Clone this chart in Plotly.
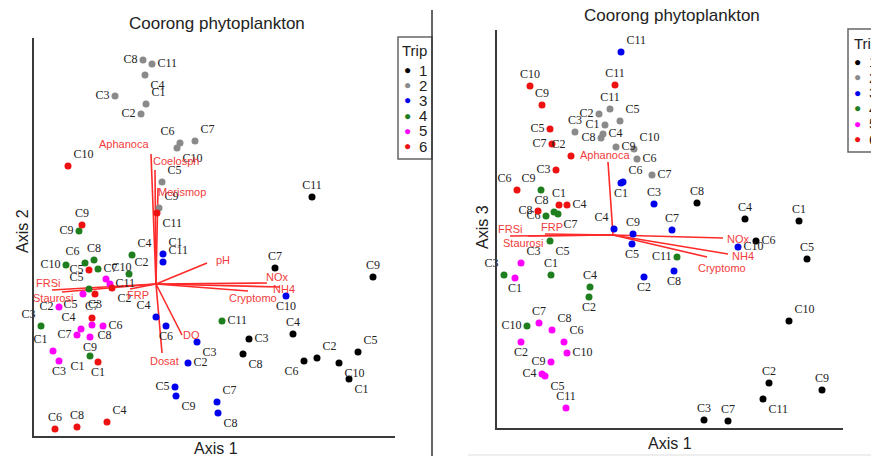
import plotly.graph_objects as go

W, H = 871, 456

# ---------------- data ----------------
trips = ["1", "2", "3", "4", "5", "6"]
trip_colors = ["#000000", "#8a8a8a", "#0000ee", "#1f7f1f", "#ff00ff", "#ee1111"]

# Left panel: Axis 1 vs Axis 2 site scores, by trip
L_t1_site = ["C11", "C7", "C9", "C4", "C3", "C8", "C6", "C2", "C10", "C5", "C1"]
L_t1_ax1 = [1.56, 1.19, 2.17, 1.37, 0.93, 0.87, 1.48, 1.61, 1.83, 2.02, 1.93]
L_t1_ax2 = [0.87, 0.16, 0.07, -0.50, -0.55, -0.70, -0.77, -0.74, -0.79, -0.68, -0.95]

L_t2_site = ["C8", "C11", "C4", "C3", "C1", "C2", "C6", "C7", "C10", "C5", "C9"]
L_t2_ax1 = [-0.13, -0.04, -0.11, -0.41, -0.10, -0.15, 0.24, 0.39, 0.21, 0.06, 0.03]
L_t2_ax2 = [2.24, 2.20, 2.09, 1.88, 1.80, 1.70, 1.41, 1.43, 1.36, 1.02, 0.76]

L_t3_site = ["C1", "C11", "C10", "C4", "C6", "C3", "C2", "C5", "C9", "C7", "C8"]
L_t3_ax1 = [0.07, 0.07, 1.30, 0.00, 0.10, 0.41, 0.32, 0.19, 0.20, 0.61, 0.62]
L_t3_ax2 = [0.30, 0.22, -0.12, -0.33, -0.42, -0.58, -0.79, -1.03, -1.12, -1.18, -1.29]

L_t4_site = ["C9", "C4", "C6", "C8", "C10", "C7", "C2", "C5", "C3", "C1", "C11"]
L_t4_ax1 = [-0.77, -0.24, -0.71, -0.62, -0.90, -0.58, -0.27, -0.67, -1.15, -0.66, 0.66]
L_t4_ax2 = [0.53, 0.29, 0.21, 0.24, 0.19, 0.15, 0.10, -0.05, -0.42, -0.72, -0.37]

L_t5_site = ["C10", "C11", "C5", "C2", "C4", "C7", "C8", "C9", "C6", "C1", "C3"]
L_t5_ax1 = [-0.50, -0.46, -0.73, -0.97, -0.75, -0.79, -0.64, -0.66, -0.53, -1.03, -0.97]
L_t5_ax2 = [0.05, 0.00, -0.10, -0.23, -0.45, -0.51, -0.41, -0.53, -0.42, -0.67, -0.77]

L_t6_site = ["C10", "C11", "C9", "C5", "C2", "C3", "C7", "C1", "C6", "C8", "C4"]
L_t6_ax1 = [-0.88, 0.01, -0.74, -0.67, -0.44, -0.61, -0.64, -0.58, -1.01, -0.79, -0.49]
L_t6_ax2 = [1.18, 0.71, 0.59, 0.14, -0.04, -0.10, -0.34, -0.78, -1.45, -1.43, -1.38]

# Right panel: Axis 1 vs Axis 3 site scores, by trip
R_t1_site = ["C8", "C4", "C1", "C6", "C5", "C10", "C2", "C11", "C9", "C3", "C7"]
R_t1_ax1 = [0.84, 1.32, 1.86, 1.43, 1.94, 1.76, 1.56, 1.50, 2.09, 0.91, 1.15]
R_t1_ax3 = [0.32, 0.16, 0.14, -0.06, -0.24, -0.86, -1.48, -1.64, -1.55, -1.85, -1.86]

R_t2_site = ["C11", "C2", "C1", "C5", "C3", "C4", "C8", "C9", "C10", "C6", "C7"]
R_t2_ax1 = [-0.03, -0.14, -0.08, 0.07, -0.38, -0.10, -0.12, 0.03, 0.21, 0.24, 0.39]
R_t2_ax3 = [1.26, 1.21, 1.10, 1.14, 1.03, 1.01, 0.97, 0.88, 0.86, 0.76, 0.60]

R_t3_site = ["C11", "C6", "C1", "C3", "C7", "C4", "C9", "C5", "C10", "C2", "C8"]
R_t3_ax1 = [0.08, 0.10, 0.08, 0.41, 0.59, 0.01, 0.20, 0.19, 1.25, 0.31, 0.61]
R_t3_ax3 = [1.83, 0.53, 0.52, 0.31, 0.05, 0.06, 0.01, -0.09, -0.12, -0.42, -0.36]

R_t4_site = ["C9", "C8", "C7", "C6", "C5", "C3", "C1", "C4", "C2", "C10", "C11"]
R_t4_ax1 = [-0.72, -0.59, -0.55, -0.67, -0.63, -1.09, -0.62, -0.23, -0.24, -0.86, 0.64]
R_t4_ax3 = [0.45, 0.23, 0.21, 0.19, -0.06, -0.40, -0.40, -0.52, -0.62, -0.91, -0.22]

R_t5_site = ["C3", "C1", "C7", "C8", "C2", "C6", "C10", "C9", "C4", "C5", "C11"]
R_t5_ax1 = [-0.92, -0.98, -0.74, -0.61, -0.92, -0.49, -0.46, -0.62, -0.71, -0.68, -0.47]
R_t5_ax3 = [-0.28, -0.43, -0.88, -0.95, -1.07, -1.07, -1.18, -1.27, -1.39, -1.41, -1.73]

R_t6_site = ["C10", "C11", "C9", "C5", "C7", "C2", "C3", "C6", "C1", "C4", "C8"]
R_t6_ax1 = [-0.83, 0.02, -0.71, -0.63, -0.61, -0.42, -0.57, -0.96, -0.54, -0.46, -0.75]
R_t6_ax3 = [1.49, 1.50, 1.30, 1.06, 0.91, 0.79, 0.65, 0.45, 0.30, 0.30, 0.24]

# Fitted vectors (biplot arrows)
L_vec_name = ["Aphanoca", "Coelosph", "Merismop", "pH", "NOx", "NH4", "Cryptomo",
              "DO", "Dosat", "FRP", "FRSi", "Staurosi"]
L_vec_ax1 = [-0.05, -0.01, 0.02, 0.51, 1.11, 1.24, 0.92, 0.26, 0.06, -0.26, -1.04, -0.94]
L_vec_ax2 = [1.30, 1.14, 0.96, 0.21, 0.01, -0.03, -0.07, -0.51, -0.69, -0.05, -0.06, -0.08]

R_vec_name = ["Aphanoca", "NOx", "NH4", "Cryptomo", "FRSi", "Staurosi", "FRP"]
R_vec_ax1 = [-0.05, 1.10, 1.15, 0.94, -1.03, -0.85, -0.68]
R_vec_ax3 = [0.73, -0.03, -0.19, -0.22, -0.01, -0.01, 0.01]

# ---------------- label placement (style) ----------------
L_pos = [
    ["top center", "top center", "top center", "top center", "middle right", "bottom right",
     "bottom left", "top right", "bottom right", "top right", "bottom right"],
    ["middle left", "middle right", "bottom right", "middle left", "top right", "middle left",
     "top left", "top right", "bottom right", "top right", "top right"],
    ["top right", "top right", "bottom center", "top left", "bottom center", "bottom right",
     "middle right", "middle left", "bottom right", "top right", "bottom right"],
    ["middle left", "top right", "top left", "top center", "middle left", "middle right",
     "top right", "top left", "top left", "bottom left", "middle right"],
    ["top right", "middle right", "bottom left", "middle left", "top left", "middle left",
     "bottom right", "bottom center", "middle right", "top left", "bottom center"],
    ["top right", "bottom right", "top center", "middle left", "bottom right", "bottom center",
     "top center", "bottom center", "top center", "top center", "top right"],
]
R_pos = [
    ["top center", "top center", "top center", "middle right", "top center", "top right",
     "top center", "bottom right", "top center", "top center", "top center"],
    ["top center", "middle left", "middle left", "top right", "top center", "middle right",
     "middle left", "middle right", "top right", "middle right", "middle right"],
    ["top right", "top right", "bottom center", "top center", "top center", "top left",
     "top center", "bottom center", "middle right", "bottom center", "bottom center"],
    ["top left", "top left", "bottom right", "middle left", "bottom right", "top left",
     "top center", "top center", "bottom center", "middle left", "middle left"],
    ["top right", "bottom center", "top center", "top right", "bottom center", "top right",
     "middle right", "middle left", "middle left", "bottom right", "top center"],
    ["top center", "top center", "top center", "middle left", "middle left", "top left",
     "middle left", "top left", "top center", "middle right", "middle left"],
]
L_vec_shift = [(-27, 10), (21, 9), (24, -4), (16, 3), (10, 6), (4, -2), (5, -7),
               (9, 0), (2, -8), (8, -6), (-4, 7), (-9, -6)]
R_vec_shift = [(-3, 7), (15, -1), (15, -2), (15, -11), (0, 7), (-5, -7), (7, 7)]

VEC_COLOR = "#ff2a2a"
VEC_TEXT = "#f23c3c"
LABEL_FONT = dict(family="Liberation Serif, Times New Roman, serif", size=12, color="#222222")
SANS = "Liberation Sans, Arial, sans-serif"


def fx(px):
    return px / W


def fy(py):
    return 1 - py / H


fig = go.Figure()

left_groups = [
    (L_t1_site, L_t1_ax1, L_t1_ax2), (L_t2_site, L_t2_ax1, L_t2_ax2),
    (L_t3_site, L_t3_ax1, L_t3_ax2), (L_t4_site, L_t4_ax1, L_t4_ax2),
    (L_t5_site, L_t5_ax1, L_t5_ax2), (L_t6_site, L_t6_ax1, L_t6_ax2),
]
right_groups = [
    (R_t1_site, R_t1_ax1, R_t1_ax3), (R_t2_site, R_t2_ax1, R_t2_ax3),
    (R_t3_site, R_t3_ax1, R_t3_ax3), (R_t4_site, R_t4_ax1, R_t4_ax3),
    (R_t5_site, R_t5_ax1, R_t5_ax3), (R_t6_site, R_t6_ax1, R_t6_ax3),
]


def add_vectors(names, xs, ys, shifts, xref, yref):
    lx, ly = [], []
    for x, y in zip(xs, ys):
        lx += [0, x, None]
        ly += [0, y, None]
    fig.add_trace(go.Scatter(x=lx, y=ly, mode="lines", xaxis=xref, yaxis=yref,
                             line=dict(color=VEC_COLOR, width=1.6),
                             hoverinfo="skip", showlegend=False))
    for n, x, y, (dx, dy) in zip(names, xs, ys, shifts):
        fig.add_annotation(x=x, y=y, xref=xref, yref=yref, text=n,
                           showarrow=False, xshift=dx, yshift=dy,
                           font=dict(family=SANS, size=11, color=VEC_TEXT))


# vectors first (below points)
add_vectors(L_vec_name, L_vec_ax1, L_vec_ax2, L_vec_shift, "x", "y")
add_vectors(R_vec_name, R_vec_ax1, R_vec_ax3, R_vec_shift, "x2", "y2")

for i, (site, xv, yv) in enumerate(left_groups):
    fig.add_trace(go.Scatter(x=xv, y=yv, mode="markers+text", text=site,
                             textposition=L_pos[i], textfont=LABEL_FONT,
                             marker=dict(color=trip_colors[i], size=7),
                             name=trips[i], showlegend=False, cliponaxis=False,
                             xaxis="x", yaxis="y"))
for i, (site, xv, yv) in enumerate(right_groups):
    fig.add_trace(go.Scatter(x=xv, y=yv, mode="markers+text", text=site,
                             textposition=R_pos[i], textfont=LABEL_FONT,
                             marker=dict(color=trip_colors[i], size=7),
                             name=trips[i], showlegend=False, cliponaxis=False,
                             xaxis="x2", yaxis="y2"))

axis_style = dict(showline=True, linecolor="#3a3a3a", linewidth=2, showticklabels=False,
                  ticks="", showgrid=False, zeroline=False, fixedrange=True)

fig.update_layout(
    width=W, height=H, margin=dict(l=0, r=0, t=0, b=0),
    paper_bgcolor="white", plot_bgcolor="white", showlegend=False,
    xaxis=dict(domain=[fx(34), fx(395)], range=[-1.22, 2.39], anchor="y", **axis_style),
    yaxis=dict(domain=[fy(436), fy(38)], range=[-1.52, 2.46], anchor="x", **axis_style),
    xaxis2=dict(domain=[fx(497), fx(843)], range=[-1.16, 2.30], anchor="y2", **axis_style),
    yaxis2=dict(domain=[fy(428), fy(30)], range=[-1.93, 2.05], anchor="x2", **axis_style),
)

# titles and axis titles
txt = dict(family=SANS, color="#222222")
ann = [
    dict(x=fx(217), y=fy(24), text="Coorong phytoplankton", size=17),
    dict(x=fx(672), y=fy(15), text="Coorong phytoplankton", size=17),
    dict(x=fx(216), y=fy(448), text="Axis 1", size=16),
    dict(x=fx(670), y=fy(443), text="Axis 1", size=16),
]
for a in ann:
    fig.add_annotation(x=a["x"], y=a["y"], xref="paper", yref="paper", text=a["text"],
                       showarrow=False, xanchor="center", yanchor="middle",
                       font=dict(size=a["size"], **txt))
fig.add_annotation(x=fx(23), y=fy(231), xref="paper", yref="paper", text="Axis 2",
                   showarrow=False, textangle=-90, xanchor="center", yanchor="middle",
                   font=dict(size=16, **txt))
fig.add_annotation(x=fx(483), y=fy(227), xref="paper", yref="paper", text="Axis 3",
                   showarrow=False, textangle=-90, xanchor="center", yanchor="middle",
                   font=dict(size=16, **txt))

# legends (drawn as key boxes)
shapes = []
shapes.append(dict(type="rect", xref="paper", yref="paper", x0=fx(398), x1=fx(432),
                   y0=fy(159), y1=fy(37), line=dict(color="#666666", width=1.5)))
shapes.append(dict(type="path", xref="paper", yref="paper",
                   path=f"M {fx(871)},{fy(29)} L {fx(848)},{fy(29)} L {fx(848)},{fy(152)} L {fx(871)},{fy(152)}",
                   line=dict(color="#666666", width=1.5)))
shapes.append(dict(type="line", xref="paper", yref="paper", x0=fx(432), x1=fx(432),
                   y0=fy(10), y1=fy(456), line=dict(color="#333333", width=1.5)))
shapes.append(dict(type="line", xref="paper", yref="paper", x0=fx(468), x1=fx(871),
                   y0=fy(455), y1=fy(455), line=dict(color="#dddddd", width=1)))
fig.update_layout(shapes=shapes)

for (bx, top, title_y, step, mx, lx) in [(400, 70, 51, 15.2, 407, 423), (852, 62, 43, 15.4, 857, 873)]:
    fig.add_annotation(x=fx(bx), y=fy(title_y), xref="paper", yref="paper", text="Trip",
                       showarrow=False, xanchor="left", yanchor="middle",
                       font=dict(size=15, **txt))
    for i, t in enumerate(trips):
        yy = top + i * step
        fig.add_annotation(x=fx(mx), y=fy(yy), xref="paper", yref="paper", text="●",
                           showarrow=False, xanchor="center", yanchor="middle",
                           font=dict(size=12, family=SANS, color=trip_colors[i]))
        fig.add_annotation(x=fx(lx), y=fy(yy), xref="paper", yref="paper", text=t,
                           showarrow=False, xanchor="center", yanchor="middle",
                           font=dict(size=15, **txt))

fig.write_html("out.html")
